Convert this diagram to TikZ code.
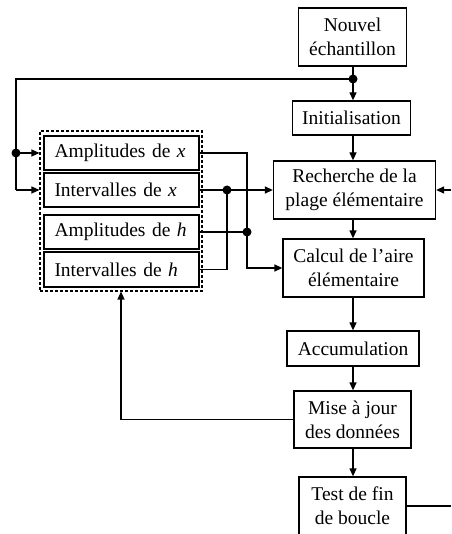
\documentclass[tikz,border=0pt]{standalone}
\usepackage{fontspec}
\setmainfont{Liberation Serif}
\usetikzlibrary{arrows.meta,calc}
\begin{document}
\begin{tikzpicture}[x=1pt,y=-1pt,
  font=\fontsize{19.5}{24}\selectfont,
  box/.style={draw,line width=1.3pt,align=center,inner sep=1pt},
  ibox/.style={draw,line width=1.3pt,minimum width=155pt,minimum height=34pt,text width=148pt,align=left,inner xsep=3.5pt,inner ysep=0pt},
  conn/.style={line width=1.3pt},
  arr/.style={conn,-{Triangle[length=8pt,width=7pt]}},
  dot/.style={circle,fill,inner sep=0pt,minimum size=9pt}]
\clip (0,0) rectangle (451,534);
\useasboundingbox (0,0) rectangle (451,534);
% right-hand column
\node[box,minimum width=108pt,minimum height=58pt] (nouv) at (352.5,37) {Nouvel\\échantillon};
\node[box,minimum width=118pt,minimum height=34pt] (init) at (351.5,118) {Initialisation};
\node[box,minimum width=162pt,minimum height=58pt] (rech) at (354.5,190) {Recherche de la\\plage élémentaire};
\node[box,minimum width=141pt,minimum height=58pt] (calc) at (353.5,268) {Calcul de l’aire\\élémentaire};
\node[box,minimum width=132pt,minimum height=35pt] (accu) at (353,348.5) {Accumulation};
\node[box,minimum width=117pt,minimum height=57pt] (mise) at (352.5,419.5) {Mise à jour\\des données};
\node[box,minimum width=107pt,minimum height=58pt] (test) at (352.5,506) {Test de fin\\de boucle};
% left block
\node[ibox] (ax) at (121.5,153) {\hspace*{7pt}Amplitudes de \textit{x}};
\node[ibox] (ix) at (121.5,190) {\hspace*{7pt}Intervalles de \textit{x}};
\node[ibox] (ah) at (121.5,232) {\hspace*{7pt}Amplitudes de \textit{h}};
\node[ibox,minimum height=35pt] (ih) at (121.5,269.5) {\hspace*{7pt}Intervalles de \textit{h}};
\node[draw,line width=1.1pt,dash pattern=on 3pt off 2pt,minimum width=162pt,minimum height=160pt] (dash) at (121,211) {};
% coordinates
\coordinate (sp) at (353,0);
\coordinate (j1) at (353,79);
\coordinate (lx) at (16,0);
\coordinate (j2) at (16,153);
\coordinate (j3) at (227,190);
\coordinate (j4) at (247,232);
\coordinate (rx) at (451,0);
\coordinate (fx) at (121,0);
% vertical chain
\draw[arr] (nouv.south -| sp) -- (init.north -| sp);
\draw[arr] (init.south -| sp) -- (rech.north -| sp);
\draw[arr] (rech.south -| sp) -- (calc.north -| sp);
\draw[arr] (calc.south -| sp) -- (accu.north -| sp);
\draw[arr] (accu.south -| sp) -- (mise.north -| sp);
\draw[arr] (mise.south -| sp) -- (test.north -| sp);
% top loop
\draw[conn] (j1) -- (j1 -| lx) -- (lx |- ix);
\draw[arr] (lx |- ix) -- (dash.west |- ix);
\draw[arr] (j2) -- (dash.west |- ax);
\node[dot] at (j1) {};
\node[dot] at (j2) {};
% outputs of left block
\draw[arr] (ix.east) -- (rech.west |- ix);
\draw[conn] (ih.east) -- (ih.east -| j3) -- (j3);
\draw[conn] (ah.east) -- (j4);
\draw[arr] (ax.east) -- (ax.east -| j4) -- (j4 |- calc) -- (calc.west);
\node[dot] at (j3) {};
\node[dot] at (j4) {};
% feedback
\draw[arr] (mise.west) -- (mise.west -| fx) -- (fx |- dash.south);
% right side
\draw[arr] (rx |- rech) -- (rech.east);
\draw[conn] (test.east) -- (rx |- test);
\end{tikzpicture}
\end{document}
